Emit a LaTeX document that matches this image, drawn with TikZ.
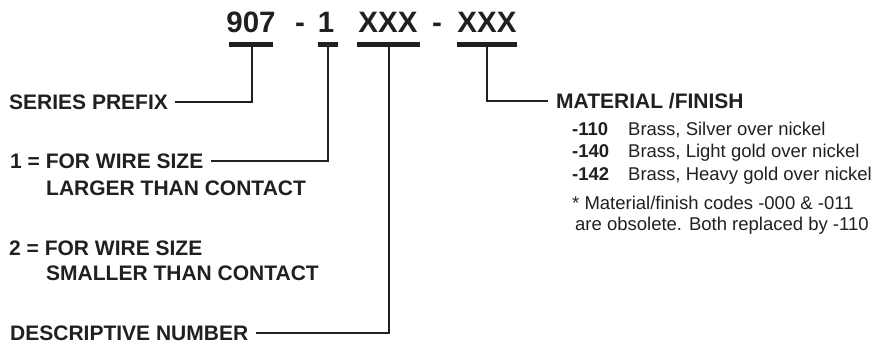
\documentclass[tikz,border=0pt]{standalone}
\usepackage{fontspec}
\setmainfont{Liberation Sans}
\definecolor{ink}{HTML}{231F20}
\begin{document}
\begin{tikzpicture}[x=1pt,y=-1pt,
  every node/.style={text=ink, inner sep=0pt},
  big/.style={font=\fontsize{29.5}{29.5}\selectfont\bfseries, anchor=base},
  lab/.style={font=\fontsize{21}{21}\selectfont\bfseries, anchor=base west},
  code/.style={font=\fontsize{18.5}{18.5}\selectfont\bfseries, anchor=base west},
  row/.style={font=\fontsize{18.5}{18.5}\selectfont, anchor=base west},
  bar/.style={draw=ink, line width=4.5pt},
  conn/.style={draw=ink, line width=2pt}]
\useasboundingbox (0,0) rectangle (880,343);
% part number
\node[big] (n907) at (251,32) {907};
\node[big] (d1) at (300,32) {-};
\node[big] (n1) at (326,32) {1};
\node[big] (x1) at (388,32) {XXX};
\node[big] (d2) at (437,32) {-};
\node[big] (x2) at (487,32) {XXX};
% bars
\coordinate (b1) at (252,44.5);
\coordinate (b2) at (328,44.5);
\coordinate (b3) at (389,44.5);
\coordinate (b4) at (487,44.5);
\path[bar] (229,44.5) -- (273,44.5);
\path[bar] (318,44.5) -- (338,44.5);
\path[bar] (357,44.5) -- (420,44.5);
\path[bar] (457,44.5) -- (517,44.5);
% labels
\node[lab] (series) at (9,109) {SERIES PREFIX};
\node[lab] (w1a) at (10,168) {1 = FOR WIRE SIZE};
\node[lab] (w1b) at (46,195) {LARGER THAN CONTACT};
\node[lab] (w2a) at (9,255) {2 = FOR WIRE SIZE};
\node[lab] (w2b) at (46,280) {SMALLER THAN CONTACT};
\node[lab] (desc) at (10,340) {DESCRIPTIVE NUMBER};
\node[lab] (mat) at (556,108) {MATERIAL /FINISH};
\node[code] (c110) at (572,135) {-110};
\node[row] (t110) at (628,135) {Brass, Silver over nickel};
\node[code] (c140) at (572,157) {-140};
\node[row] (t140) at (628,157) {Brass, Light gold over nickel};
\node[code] (c142) at (572,180) {-142};
\node[row] (t142) at (628,180) {Brass, Heavy gold over nickel};
\node[row] (note1) at (572,209) {* Material/finish codes -000 \& -011};
\node[row] (note2) at (575,230) {are obsolete. Both replaced by -110};
% connectors
\path[conn] (b1) |- ([xshift=7]series.east);
\path[conn] (b2) |- ([xshift=7]w1a.east);
\path[conn] (b3) |- ([xshift=8]desc.east);
\path[conn] (b4) |- ([xshift=-8]mat.west);
\end{tikzpicture}
\end{document}
